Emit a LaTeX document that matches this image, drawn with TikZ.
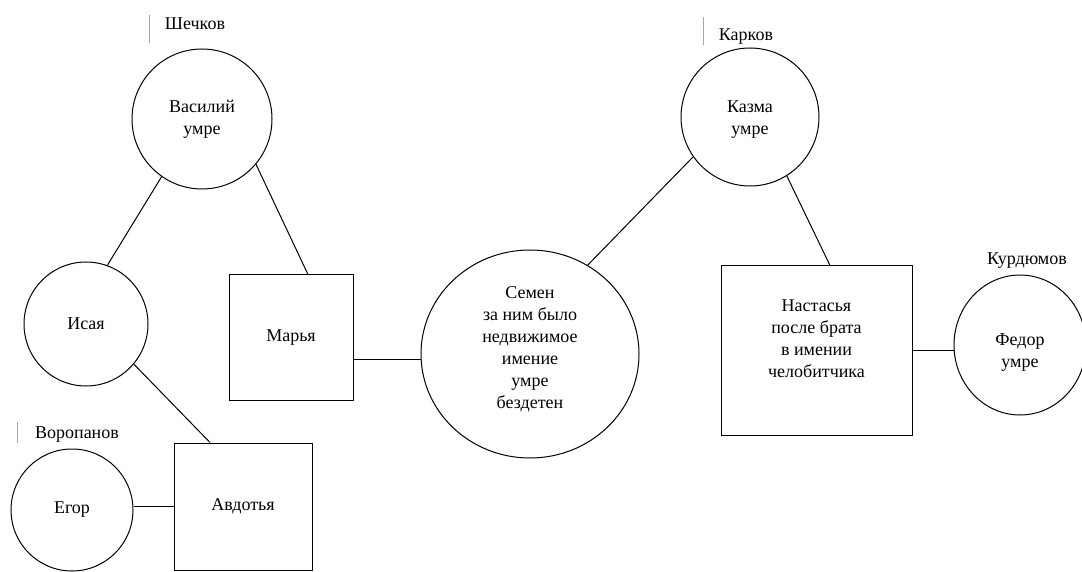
\documentclass[tikz,border=0pt]{standalone}
\usepackage{fontspec}
\setmainfont{Liberation Serif}
\usetikzlibrary{shapes.geometric}
\begin{document}
\begin{tikzpicture}[x=1pt,y=-1pt,
  every node/.style={font=\fontsize{18}{22}\selectfont, align=center},
  person/.style={draw, circle, line width=1pt, inner sep=0pt},
  oval/.style={draw, ellipse, line width=1pt, inner sep=0pt},
  box/.style={draw, rectangle, line width=1pt, inner sep=0pt},
  link/.style={line width=1pt},
  tickmark/.style={draw=black!35, line width=0.6pt},
  fam/.style={inner sep=0pt, anchor=base}]
\useasboundingbox (0,0) rectangle (1082,572);

% persons
\node[person, minimum size=140pt] (vas) at (202,119) {Василий\\умре};
\node[person, minimum size=124pt] (isa) at (86,324) {Исая};
\node[box, minimum width=124pt, minimum height=125pt] (mar) at (291,337.5) {Марья};
\node[box, minimum width=138pt, minimum height=127pt] (avd) at (243,506.5) {Авдотья};
\node[person, minimum size=122pt] (ego) at (72,510) {Егор};
\node[oval, minimum width=218pt, minimum height=208pt] (sem) at (530,354) {};
\node (semtext) at (530,349) {Семен\\за ним было\\недвижимое\\имение\\умре\\бездетен};
\node[person, minimum size=138pt] (kaz) at (750,117) {};
\node (kaztext) at (750,120) {Казма\\умре};
\node[box, minimum width=191pt, minimum height=169pt] (nas) at (816.5,350.5) {};
\node (nastext) at (816.5,339) {Настасья\\после брата\\в имении\\челобитчика};
\node[oval, minimum width=132pt, minimum height=140pt] (fed) at (1020,345) {};
\node (fedtext) at (1020,353) {Федор\\умре};

% family names
\node[fam] (lshe) at (195,30) {Шечков};
\node[fam] (lkar) at (746,41) {Карков};
\node[fam] (lvor) at (77,438) {Воропанов};
\node[fam] (lkur) at (1027,265) {Курдюмов};

% faint marks
\draw[tickmark] (149,15) -- (149,43);
\draw[tickmark] (703,17) -- (703,45);
\draw[tickmark] (17,422) -- (17,443);

% connectors
\draw[link] (vas.235) -- (isa.70);
\draw[link] (vas.320) -- ([xshift=17pt]mar.north);
\draw[link] (isa.320) -- ([xshift=-33pt]avd.north);
\draw[link] (avd.west -| ego.east) -- (avd.west);
\draw[link] ([yshift=-21.5pt]mar.east) -- ([yshift=-5pt]sem.west);
\draw[link] (kaz.215) -- (sem.57);
\draw[link] (kaz.302) -- ([xshift=13.5pt]nas.north);
\draw[link] (nas.east) -- (nas.east -| fed.west);
\end{tikzpicture}
\end{document}
